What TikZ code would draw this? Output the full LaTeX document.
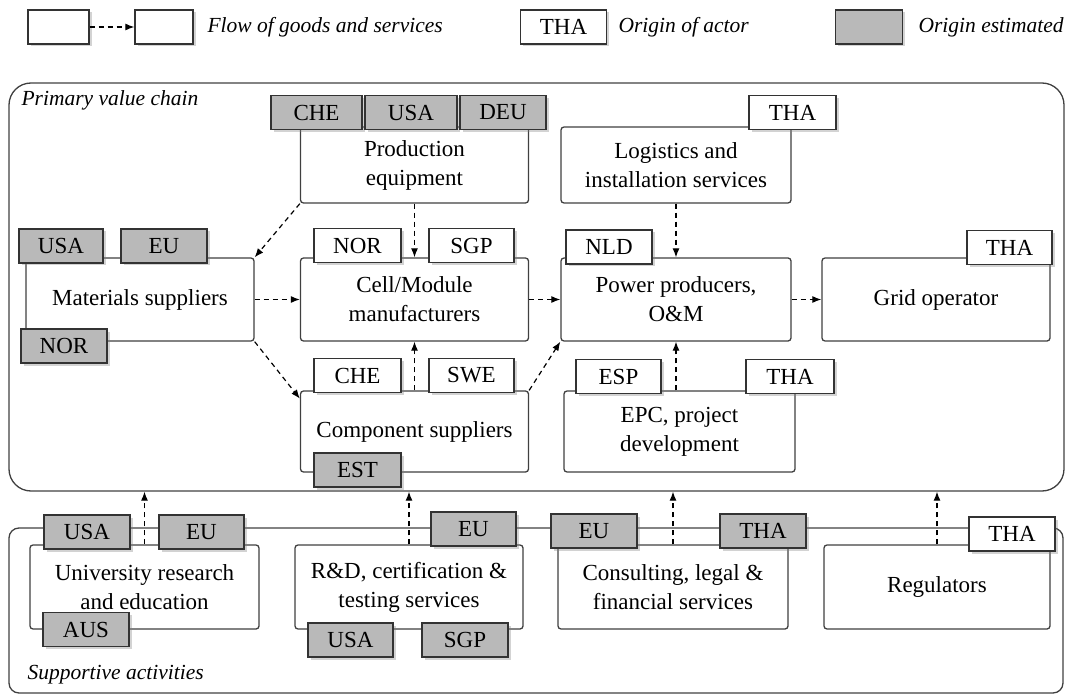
\documentclass[tikz,border=0pt]{standalone}
\usepackage{fontspec}
\setmainfont{Liberation Serif}
\usetikzlibrary{arrows.meta,shadows}

\tikzset{
  every node/.style={font=\fontsize{23}{29}\selectfont},
  frame/.style={draw=black!75, line width=1.3pt, inner sep=0pt},
  box/.style={draw=black!75, line width=1.3pt, rounded corners=3pt, fill=white,
    align=center, inner sep=0pt, minimum width=228pt, minimum height=82pt},
  tag/.style={draw=black!80, line width=1.3pt, fill=white, inner sep=0pt,
    minimum width=86pt, minimum height=34pt,
    drop shadow={shadow xshift=2.5pt, shadow yshift=-2.5pt, opacity=.35}},
  esttag/.style={tag, fill=gray!55},
  flow/.style={line width=1.2pt, dash pattern=on 5pt off 4pt,
    -{Latex[length=9pt,width=7pt]}},
  italabel/.style={anchor=west, font=\fontsize{21.5}{27}\selectfont\itshape}
}

\begin{document}
\begin{tikzpicture}[x=1pt,y=-1pt]
\useasboundingbox (0,0) rectangle (1074,695);

% Legend
\node[tag, minimum width=61pt] (lgfrom) at (58.5,27) {};
\node[tag, minimum width=58pt] (lgto) at (164,27) {};
\draw[flow] (lgfrom) -- (lgto);
\node[italabel] (lgflow) at (204,27) {Flow of goods and services};
\node[tag] (lgactor) at (563.5,27) {THA};
\node[italabel] (lgactortxt) at (615,27) {Origin of actor};
\node[esttag, minimum width=67pt] (lgest) at (869,27) {};
\node[italabel] (lgesttxt) at (915,27) {Origin estimated};

% Frames
\node[frame, rounded corners=22pt, minimum width=1055pt, minimum height=408pt] (pvc) at (536.5,287) {};
\node[frame, rounded corners=10pt, minimum width=1054pt, minimum height=165pt] (sup) at (536,610.5) {};
\node[italabel] (pvclabel) at (18,100) {Primary value chain};
\node[italabel] (suplabel) at (24,675) {Supportive activities};

% Primary value chain
\node[box, minimum height=76pt] (prod) at (414.5,165) {Production\\equipment};
\node[box, minimum width=230pt, minimum height=76pt] (logi) at (676,165) {Logistics and\\installation services};
\node[box, minimum height=83pt] (mat) at (140,299.5) {Materials suppliers};
\node[box, minimum height=83pt] (cell) at (414.5,299.5) {Cell/Module\\manufacturers};
\node[box, minimum width=230pt, minimum height=83pt] (power) at (676,299.5) {Power producers,\\O\&M};
\node[box, minimum height=83pt] (grid) at (936,299.5) {Grid operator};
\node[box, minimum height=81pt] (comp) at (414.5,431.5) {Component suppliers};
\node[box, minimum width=231pt, minimum height=81pt] (epc) at (679.5,431.5) {EPC, project\\development};

% Supportive activities
\node[box, minimum width=229pt, minimum height=84pt] (univ) at (144.5,587) {University research\\and education};
\node[box, minimum height=84pt] (rd) at (409,587) {R\&D, certification \&\\testing services};
\node[box, minimum width=230pt, minimum height=84pt] (cons) at (673,587) {Consulting, legal \&\\financial services};
\node[box, minimum width=226pt, minimum height=84pt] (reg) at (937,587) {Regulators};

% Flows
\draw[flow] (prod.south west) -- (mat.north east);
\draw[flow] (prod.south) -- (cell.north);
\draw[flow] (logi.south) -- (power.north);
\draw[flow] (mat.east) -- (cell.west);
\draw[flow] (mat.south east) -- (comp.164);
\draw[flow] (cell.east) -- (power.west);
\draw[flow] (power.east) -- (grid.west);
\draw[flow] (comp.north) -- (cell.south);
\draw[flow] (comp.north east) -- (power.south west);
\draw[flow] (epc.north -| power.south) -- (power.south);
\foreach \s in {univ,rd,cons,reg}
  \draw[flow] (\s.north) -- (\s.north |- pvc.south);

% Origin tags
\node[esttag, minimum width=91pt] (prodche) at (316.5,112.5) {CHE};
\node[esttag, minimum width=92pt] (produsa) at (411,112.5) {USA};
\node[esttag] (proddeu) at (503,112.5) {DEU};
\node[tag, minimum width=87pt] (logitha) at (792.5,112.5) {THA};
\node[esttag, minimum width=84pt] (matusa) at (61,246) {USA};
\node[esttag] (mateu) at (164,246) {EU};
\node[esttag] (matnor) at (64,346) {NOR};
\node[tag, minimum width=87pt] (cellnor) at (357.5,245.5) {NOR};
\node[tag, minimum width=85pt] (cellsgp) at (471.5,245.5) {SGP};
\node[tag] (powernld) at (609,247) {NLD};
\node[tag, minimum width=85pt] (gridtha) at (1009.5,247.5) {THA};
\node[tag, minimum width=87pt] (compche) at (357.5,375.5) {CHE};
\node[tag, minimum width=85pt] (compswe) at (471.5,375.5) {SWE};
\node[esttag, minimum width=87pt] (compest) at (357.5,470) {EST};
\node[tag, minimum width=85pt] (epcesp) at (618.5,376.5) {ESP};
\node[tag, minimum width=88pt] (epctha) at (790,376.5) {THA};
\node[esttag] (univusa) at (87,532) {USA};
\node[esttag, minimum width=85pt] (univeu) at (201.5,532) {EU};
\node[esttag] (univaus) at (86,629.5) {AUS};
\node[esttag, minimum width=85pt] (rdeu) at (473.5,529) {EU};
\node[esttag, minimum width=85pt] (rdusa) at (350.5,640) {USA};
\node[esttag] (rdsgp) at (465,640) {SGP};
\node[esttag] (conseu) at (594,531) {EU};
\node[esttag] (constha) at (763,531) {THA};
\node[tag] (regtha) at (1012,534) {THA};

\end{tikzpicture}
\end{document}
